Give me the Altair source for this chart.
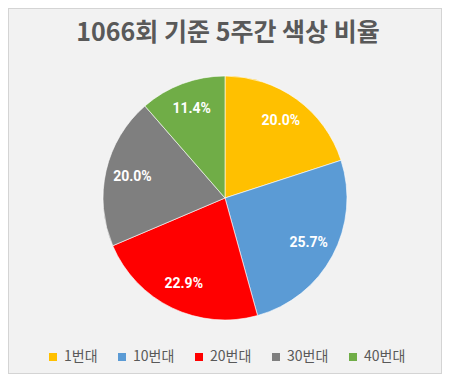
import altair as alt
import pandas as pd

categories = ["1번대", "10번대", "20번대", "30번대", "40번대"]
values = [20.0, 25.7, 22.9, 20.0, 11.4]
labels = ["20.0%", "25.7%", "22.9%", "20.0%", "11.4%"]
colors = ["#FFC000", "#5B9BD5", "#FF0000", "#7F7F7F", "#70AD47"]
title_text = "1066회 기준 5주간 색상 비율"

df = pd.DataFrame({
    "cat": categories,
    "val": values,
    "label": labels,
    "idx": list(range(len(categories))),
})

W, H = 434, 366
CX, CY, R = 217, 190, 122

base = alt.Chart(df).encode(
    theta=alt.Theta("val:Q", stack=True),
    order=alt.Order("idx:Q"),
)

pie = base.mark_arc(radius=R, stroke="#ffffff", strokeWidth=0.6).encode(
    x=alt.value(CX), y=alt.value(CY),
    color=alt.Color(
        "cat:N",
        scale=alt.Scale(domain=categories, range=colors),
        sort=categories,
        legend=alt.Legend(
            title=None, orient="none", direction="horizontal",
            legendX=38, legendY=342, symbolType="square", symbolSize=64,
            symbolStrokeWidth=0, labelFont="Noto Sans CJK KR", labelFontSize=14,
            labelColor="#595959", columnPadding=17, symbolOffset=0, padding=0,
            labelOffset=4,
        ),
    ),
)

text = base.mark_text(
    radius=95, font="Roboto", fontSize=14, fontWeight="bold", color="#ffffff"
).encode(x=alt.value(CX), y=alt.value(CY), text="label:N")

title = alt.Chart(pd.DataFrame({"t": [title_text]})).mark_text(
    font="Noto Sans CJK KR", fontSize=25, fontWeight="bold", color="#595959"
).encode(x=alt.value(W / 2 + 3), y=alt.value(25), text="t:N")

chart = alt.layer(pie, text, title).properties(
    width=W, height=H,
    autosize=alt.AutoSizeParams(type="none"),
    padding=0,
    background="#ffffff",
).configure_view(fill="#F2F2F2", stroke="#D4D4D4", strokeWidth=2)

chart.save("out.html", embed_options={"renderer": "svg", "actions": False})
